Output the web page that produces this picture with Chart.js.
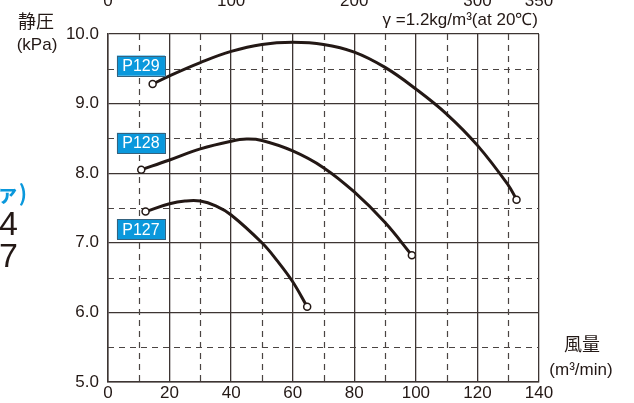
<!DOCTYPE html>
<html><head><meta charset="utf-8">
<script src="https://cdn.jsdelivr.net/npm/chart.js@4/dist/chart.umd.min.js"></script>
<style>html,body{margin:0;padding:0;background:#fff;}canvas{display:block;}</style>
</head><body>
<canvas id="c" width="634" height="403"></canvas>
<script>
// ---- data ----
const p129X = [14.5, 20, 30, 40, 50, 60, 70, 80, 90, 100, 110, 120, 130, 132.7];
const p129Y = [9.28, 9.40, 9.59, 9.75, 9.85, 9.88, 9.85, 9.74, 9.52, 9.21, 8.85, 8.40, 7.83, 7.62];
const p128X = [10.8, 20, 30, 40, 45, 50, 60, 70, 80, 90, 98.7];
const p128Y = [8.05, 8.19, 8.35, 8.46, 8.49, 8.47, 8.32, 8.08, 7.73, 7.29, 6.82];
const p127X = [12.2, 20, 25, 30, 35, 40, 50, 55, 60, 64.7];
const p127Y = [7.45, 7.56, 7.60, 7.60, 7.53, 7.40, 7.00, 6.74, 6.44, 6.08];
const seriesNames = ["P129", "P128", "P127"];
const topTicks = [0, 100, 200, 300, 350];
const dashX = [10, 30, 50, 70, 90, 110, 130];
const dashY = [5.5, 6.5, 7.5, 8.5, 9.5];

const INK = '#231815';
const GRID = '#3d3533';
const BLUE = '#0a98dc';

function pts(xs, ys){ return xs.map((x,i)=>({x:x, y:ys[i]})); }
function ds(name, xs, ys){
  return {
    label: name, data: pts(xs, ys), showLine: true,
    borderColor: INK, borderWidth: 3, tension: 0.4,
    pointRadius: ctx => (ctx.dataIndex === 0 || ctx.dataIndex === xs.length-1) ? 3.5 : 0,
    pointBackgroundColor: '#fff', pointBorderColor: INK, pointBorderWidth: 1.5,
    pointHoverRadius: 0
  };
}

const labelBoxes = [
  {name: seriesNames[0], x0: 2.9, x1: 18.5, y0: 9.69, y1: 9.40},
  {name: seriesNames[1], x0: 2.9, x1: 18.5, y0: 8.58, y1: 8.29},
  {name: seriesNames[2], x0: 2.9, x1: 18.5, y0: 7.34, y1: 7.05}
];

const extras = {
  id: 'extras',
  beforeDatasetsDraw(chart){
    const {ctx, chartArea: a, scales} = chart;
    ctx.save();
    ctx.strokeStyle = '#4a4442';
    ctx.lineWidth = 1.2;
    ctx.setLineDash([6, 5]);
    dashX.forEach(v => {
      const px = Math.round(scales.x.getPixelForValue(v)) + 0.5;
      ctx.beginPath(); ctx.moveTo(px, a.top); ctx.lineTo(px, a.bottom); ctx.stroke();
    });
    dashY.forEach(v => {
      const py = Math.round(scales.y.getPixelForValue(v)) + 0.5;
      ctx.beginPath(); ctx.moveTo(a.left, py); ctx.lineTo(a.right, py); ctx.stroke();
    });
    ctx.restore();
  },
  afterDatasetsDraw(chart){
    const {ctx, scales} = chart;
    ctx.save();
    // series label boxes
    labelBoxes.forEach(b => {
      const x0 = scales.x.getPixelForValue(b.x0), x1 = scales.x.getPixelForValue(b.x1);
      const y0 = scales.y.getPixelForValue(b.y0), y1 = scales.y.getPixelForValue(b.y1);
      ctx.fillStyle = BLUE;
      ctx.fillRect(x0, y0, x1-x0, y1-y0);
      ctx.strokeStyle = '#35627e'; ctx.lineWidth = 1;
      ctx.strokeRect(Math.round(x0)+0.5, Math.round(y0)+0.5, Math.round(x1-x0), Math.round(y1-y0));
      ctx.fillStyle = '#fff';
      ctx.font = '16px "Liberation Sans", Arial, sans-serif';
      ctx.textAlign = 'center'; ctx.textBaseline = 'middle';
      ctx.fillText(b.name, (x0+x1)/2, (y0+y1)/2 + 1);
    });
    // top secondary axis labels (cut off at top edge)
    ctx.fillStyle = '#231815';
    ctx.font = '17px "Liberation Sans", Arial, sans-serif';
    ctx.textAlign = 'center'; ctx.textBaseline = 'middle';
    topTicks.forEach(v => {
      ctx.fillText(String(v), scales.xTop.getPixelForValue(v), 1);
    });
    // density note
    ctx.textAlign = 'right';
    ctx.font = '17px "Liberation Sans", Arial, sans-serif';
    ctx.fillText('γ =1.2kg/m³(at 20℃)', 538, 20);
    // axis titles
    ctx.textAlign = 'center';
    ctx.font = '18px "Noto Sans CJK JP", sans-serif';
    ctx.fillText('静圧', 36, 21);
    ctx.font = '17px "Liberation Sans", Arial, sans-serif';
    ctx.fillText('(kPa)', 37, 45);
    ctx.font = '18px "Noto Sans CJK JP", sans-serif';
    ctx.fillText('風量', 582, 344);
    ctx.font = '17px "Liberation Sans", Arial, sans-serif';
    ctx.fillText('(m³/min)', 581, 370);
    // fragments at left page edge
    ctx.textAlign = 'right';
    ctx.fillStyle = BLUE;
    ctx.font = 'bold 22px "Noto Sans CJK JP", sans-serif';
    ctx.fillText('ァ)', 27, 193);
    ctx.fillStyle = '#231815';
    ctx.font = '34px "Liberation Sans", Arial, sans-serif';
    ctx.fillText('4', 18, 226);
    ctx.fillText('7', 18, 258);
    ctx.restore();
  }
};

new Chart(document.getElementById('c'), {
  type: 'scatter',
  data: { datasets: [ ds(seriesNames[0], p129X, p129Y), ds(seriesNames[1], p128X, p128Y), ds(seriesNames[2], p127X, p127Y) ] },
  options: {
    responsive: false, animation: false, devicePixelRatio: 1,
    layout: { padding: { top: 34, right: 95, left: 0, bottom: 0 } },
    plugins: { legend: { display: false }, tooltip: { enabled: false } },
    scales: {
      x: {
        type: 'linear', position: 'bottom', min: 0, max: 140,
        ticks: { stepSize: 20, color: '#231815', padding: 1, font: { size: 17, family: '"Liberation Sans", Arial, sans-serif' } },
        grid: { color: GRID, lineWidth: 1.3, drawTicks: false },
        border: { color: GRID, width: 1.5 },
        afterFit(s){ s.height = 21; }
      },
      xTop: {
        type: 'linear', position: 'top', min: 0, max: 350, display: false
      },
      y: {
        type: 'linear', min: 5, max: 10,
        ticks: { stepSize: 1, color: '#231815', padding: 9, callback: v => Number(v).toFixed(1), font: { size: 17, family: '"Liberation Sans", Arial, sans-serif' } },
        grid: { color: GRID, lineWidth: 1.3, drawTicks: false },
        border: { color: GRID, width: 1.5 },
        afterFit(s){ s.width = 108; }
      }
    }
  },
  plugins: [extras]
});
</script>
</body></html>
